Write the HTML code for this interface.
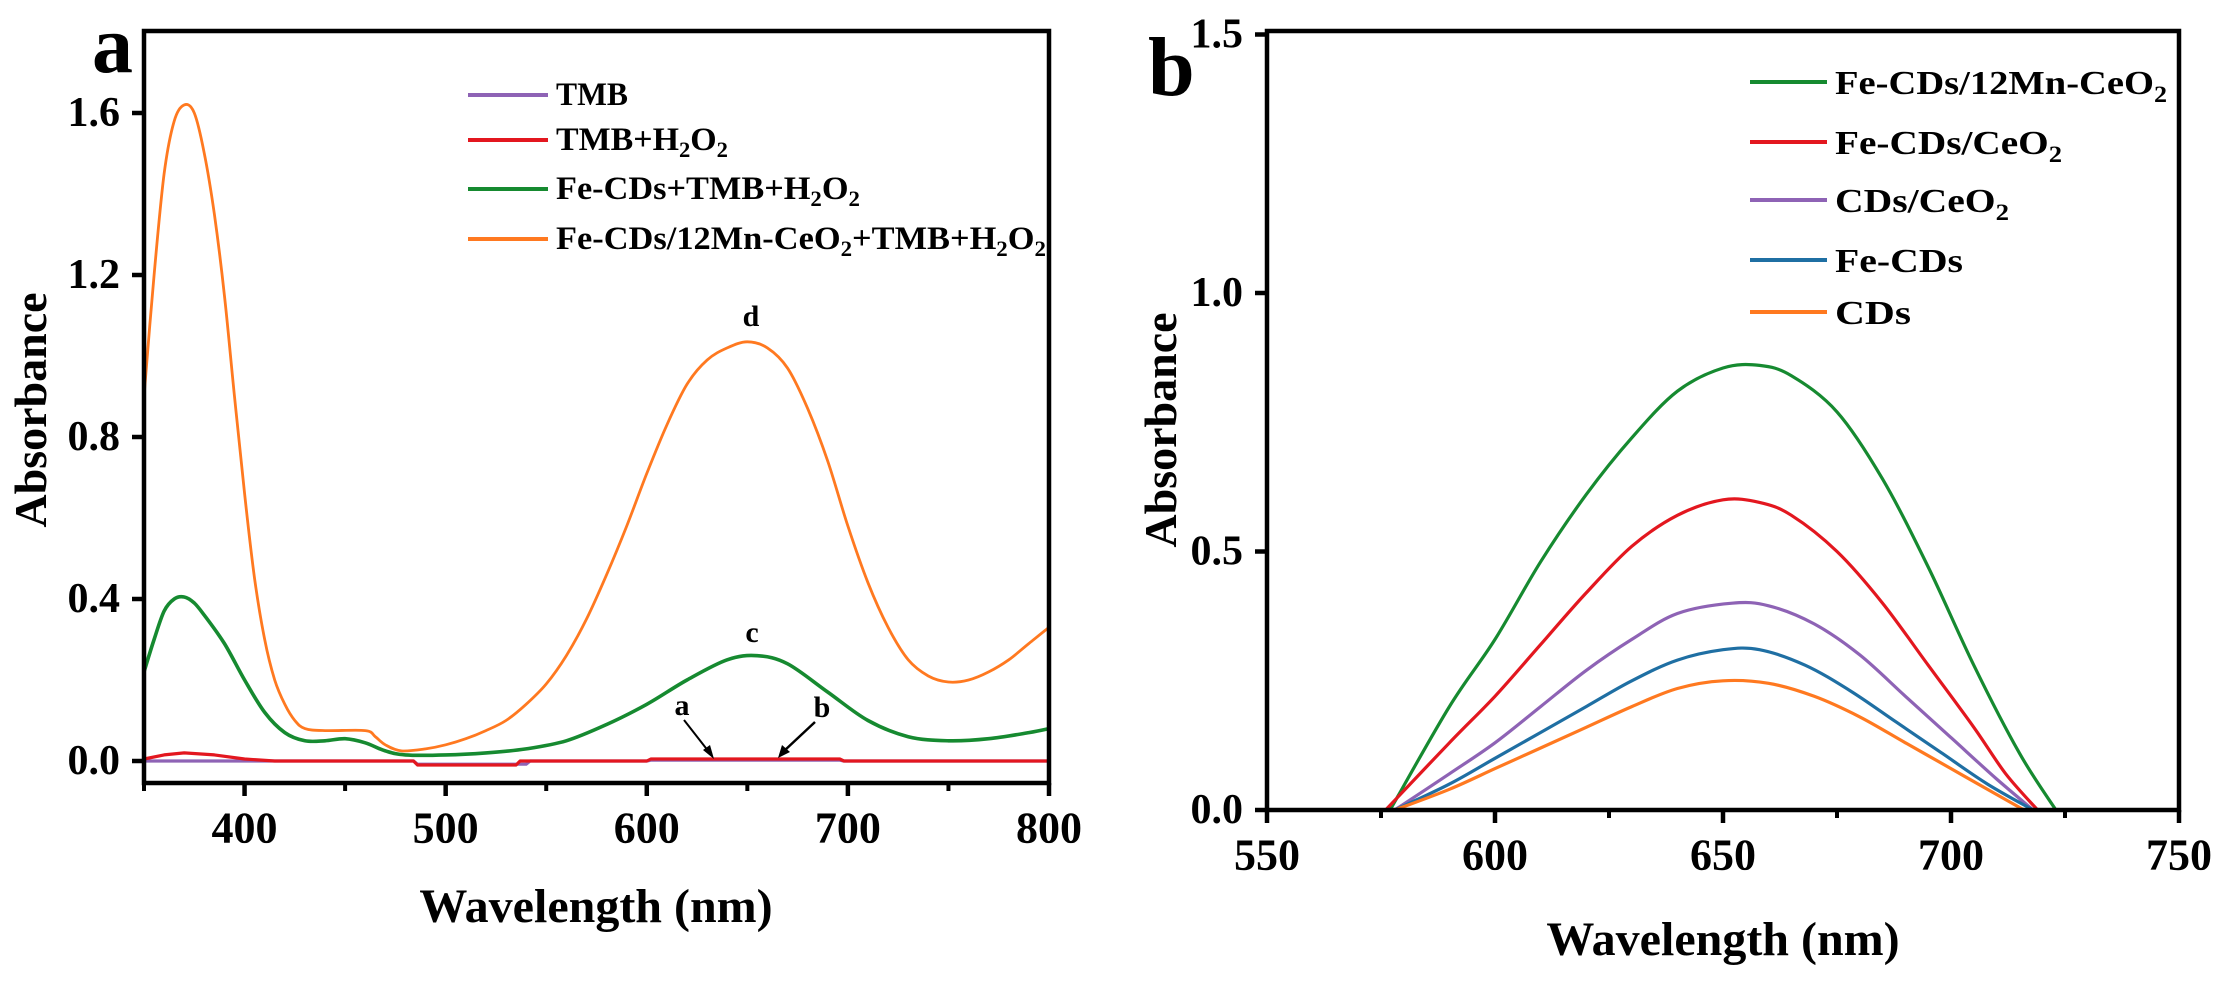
<!DOCTYPE html>
<html><head><meta charset="utf-8"><style>
html,body{margin:0;padding:0;background:#fff;}
svg{display:block;font-family:"Liberation Serif",serif;font-weight:bold;}
</style></head><body>
<svg id="fig" width="2237" height="985" viewBox="0 0 2237 985" xmlns="http://www.w3.org/2000/svg">
<g id="pa"></g>
<g id="pb"></g>
</svg>
<script>
// ---------- Panel a data ----------
const aOrangeX = [350,355,360,365,370,375,380,385,390,395,400,405,410,415,420,425,430,440,460,465,470,478,490,500,510,520,530,540,550,560,570,580,590,600,610,620,630,640,650,660,670,680,690,700,710,720,730,740,750,760,770,780,790,800];
const aOrangeY = [0.9,1.2,1.45,1.58,1.62,1.6,1.5,1.35,1.15,0.9,0.66,0.45,0.3,0.2,0.14,0.1,0.08,0.075,0.075,0.06,0.04,0.025,0.03,0.04,0.055,0.075,0.1,0.14,0.19,0.26,0.35,0.46,0.58,0.71,0.83,0.93,0.99,1.02,1.035,1.02,0.97,0.87,0.74,0.58,0.44,0.33,0.25,0.21,0.195,0.2,0.22,0.25,0.29,0.33];
const aGreenX = [350,355,360,365,370,375,380,390,400,410,420,430,440,450,460,470,480,500,520,540,560,580,600,620,640,655,670,690,710,730,750,770,790,800];
const aGreenY = [0.22,0.3,0.37,0.4,0.405,0.39,0.36,0.29,0.2,0.12,0.07,0.05,0.05,0.055,0.045,0.025,0.015,0.015,0.02,0.03,0.05,0.09,0.14,0.2,0.25,0.26,0.24,0.17,0.1,0.06,0.05,0.055,0.07,0.08];
const aRedX = [350,360,370,385,400,415,484,486,535,537,600,602,696,698,800];
const aRedY = [0.005,0.015,0.02,0.015,0.005,0,0,-0.01,-0.01,0,0,0.005,0.005,0,0];
const aPurpleX = [350,484,486,540,542,600,602,696,698,800];
const aPurpleY = [0,0,-0.008,-0.008,0,0,0.002,0.002,0,0];
const aXTicks = [400,500,600,700,800];
const aXMinor = [350,450,550,650,750];
const aYTicks = [0,0.4,0.8,1.2,1.6];
const aYLabels = ["0.0","0.4","0.8","1.2","1.6"];
// ---------- Panel b data ----------
const bGreenX = [577,590,600,610,620,630,640,650,658,665,675,685,695,705,715,723];
const bGreenY = [0,0.2,0.33,0.48,0.61,0.72,0.81,0.855,0.86,0.84,0.77,0.64,0.47,0.28,0.11,0];
const bRedX = [576,590,600,610,620,630,640,650,658,665,675,685,695,705,712,719];
const bRedY = [0,0.13,0.22,0.32,0.42,0.51,0.57,0.6,0.595,0.57,0.5,0.4,0.28,0.16,0.07,0];
const bPurpleX = [578,590,600,610,620,630,640,652,660,670,680,690,700,710,718];
const bPurpleY = [0,0.07,0.13,0.2,0.27,0.33,0.38,0.4,0.395,0.36,0.3,0.22,0.14,0.06,0];
const bBlueX = [578,590,600,610,620,630,640,650,658,668,678,688,698,708,718];
const bBlueY = [0,0.05,0.1,0.15,0.2,0.25,0.29,0.31,0.31,0.28,0.23,0.17,0.11,0.05,0];
const bOrangeX = [578,590,600,610,620,630,640,650,660,670,680,690,700,710,716];
const bOrangeY = [0,0.04,0.08,0.12,0.16,0.2,0.235,0.25,0.245,0.22,0.18,0.13,0.08,0.03,0];
const bXTicks = [550,600,650,700,750];
const bXMinor = [575,625,675,725];
const bYTicks = [0,0.5,1.0,1.5];
const bYLabels = ["0.0","0.5","1.0","1.5"];

const NS = "http://www.w3.org/2000/svg";
function mk(parent, tag, attrs){const e=document.createElementNS(NS,tag);for(const k in attrs)e.setAttribute(k,attrs[k]);parent.appendChild(e);return e;}

const axA = {x0:144,x1:1049,y0:761,top:31,bottom:783,xmin:350,xmax:800,ppu:405};
const axB = {x0:1267,x1:2179,y0:810,top:31,bottom:810,xmin:550,xmax:750,ppu:517};
function sx(ax,v){return ax.x0+(v-ax.xmin)/(ax.xmax-ax.xmin)*(ax.x1-ax.x0);}
function sy(ax,v){return ax.y0-v*ax.ppu;}

function series(g,ax,xs,ys,color,name,w,smooth){
  const P=xs.map((x,i)=>[sx(ax,x),sy(ax,ys[i])]);
  let d="M"+P[0][0].toFixed(1)+","+P[0][1].toFixed(1);
  for(let i=0;i<P.length-1;i++){
    if(!smooth){d+="L"+P[i+1][0].toFixed(1)+","+P[i+1][1].toFixed(1);continue;}
    const p0=P[Math.max(i-1,0)],p1=P[i],p2=P[i+1],p3=P[Math.min(i+2,P.length-1)];
    const c1=[p1[0]+(p2[0]-p0[0])/6,p1[1]+(p2[1]-p0[1])/6];
    const c2=[p2[0]-(p3[0]-p1[0])/6,p2[1]-(p3[1]-p1[1])/6];
    d+="C"+c1[0].toFixed(1)+","+c1[1].toFixed(1)+" "+c2[0].toFixed(1)+","+c2[1].toFixed(1)+" "+p2[0].toFixed(1)+","+p2[1].toFixed(1);
  }
  const p=mk(g,"path",{d:d,fill:"none",stroke:color,"stroke-width":w||3.2,"stroke-linejoin":"round"});
  
  
}

function frame(g,ax,xt,xm,yt,yl,labY,tickFs,name){
  const f=mk(g,"rect",{x:ax.x0,y:ax.top,width:ax.x1-ax.x0,height:ax.bottom-ax.top,fill:"none",stroke:"#000","stroke-width":4.5});
  
  
  xt.forEach(v=>{
    const x=sx(ax,v);
    mk(g,"line",{x1:x,x2:x,y1:ax.bottom,y2:ax.bottom+13,stroke:"#000","stroke-width":4.5});
    const t=mk(g,"text",{x:x,y:labY,"font-size":tickFs,"text-anchor":"middle","dominant-baseline":"central"});
    t.textContent=v;
    
    
  });
  xm.forEach(v=>{const x=sx(ax,v);mk(g,"line",{x1:x,x2:x,y1:ax.bottom,y2:ax.bottom+8,stroke:"#000","stroke-width":4});});
  yt.forEach((v,i)=>{
    const y=sy(ax,v);
    mk(g,"line",{x1:ax.x0-12,x2:ax.x0,y1:y,y2:y,stroke:"#000","stroke-width":4.5});
    const t=mk(g,"text",{x:ax.x0-24,y:y,"font-size":tickFs-2,"text-anchor":"end","dominant-baseline":"central"});
    t.textContent=yl[i];
    
    
  });
}

const pa=document.getElementById("pa"), pb=document.getElementById("pb");

series(pa,axA,aPurpleX,aPurpleY,"#8e63b5","series-tmb",3.2,false);
series(pa,axA,aRedX,aRedY,"#e3171f","series-tmb-h2o2",3.2,false);
series(pa,axA,aGreenX,aGreenY,"#168a30","series-fecds-tmb-h2o2",3.6,true);
series(pa,axA,aOrangeX,aOrangeY,"#ff7920","series-fecds-mnceo2-tmb-h2o2",2.8,true);
frame(pa,axA,aXTicks,aXMinor,aYTicks,aYLabels,828,44,"panel-a");

series(pb,axB,bGreenX,bGreenY,"#168a30","series-b-fecds-12mn-ceo2",3.2,true);
series(pb,axB,bRedX,bRedY,"#e3171f","series-b-fecds-ceo2",3.2,true);
series(pb,axB,bPurpleX,bPurpleY,"#8e63b5","series-b-cds-ceo2",3.2,true);
series(pb,axB,bBlueX,bBlueY,"#1f6fa3","series-b-fecds",3.2,true);
series(pb,axB,bOrangeX,bOrangeY,"#ff7920","series-b-cds",3.2,true);
frame(pb,axB,bXTicks,bXMinor,bYTicks,bYLabels,855,44,"panel-b");

const fig=document.getElementById("fig");
fig.insertAdjacentHTML("beforeend",`
<text x="92" y="72" font-size="82">a</text>
<text x="1148" y="95" font-size="84">b</text>
<text x="596" y="922" font-size="48" text-anchor="middle">Wavelength (nm)</text>
<text x="1723" y="955" font-size="48" text-anchor="middle">Wavelength (nm)</text>
<text transform="translate(46,410) rotate(-90)" font-size="46" text-anchor="middle">Absorbance</text>
<text transform="translate(1176,430) rotate(-90)" font-size="46" text-anchor="middle">Absorbance</text>
<text x="751" y="326" font-size="30" text-anchor="middle">d</text>
<text x="752" y="642" font-size="30" text-anchor="middle">c</text>
<text x="682" y="715" font-size="30" text-anchor="middle">a</text>
<text x="822" y="717" font-size="30" text-anchor="middle">b</text>
<g><line x1="684" y1="720" x2="709" y2="752" stroke="#000" stroke-width="2"/><polygon points="714,759 703,750 710,745" fill="#000"/></g>
<g><line x1="815" y1="722" x2="784" y2="751" stroke="#000" stroke-width="2.5"/><polygon points="778,758 782,745 790,752" fill="#000"/></g>
<g>
 <g><line x1="468" x2="548" y1="95" y2="95" stroke="#8e63b5" stroke-width="4"/><text x="556" y="105" font-size="33" textLength="72" lengthAdjust="spacingAndGlyphs">TMB</text></g>
 <g><line x1="468" x2="548" y1="140" y2="140" stroke="#e3171f" stroke-width="4"/><text x="556" y="150" font-size="33" textLength="172" lengthAdjust="spacingAndGlyphs">TMB+H<tspan font-size="22" dy="7">2</tspan><tspan dy="-7">O</tspan><tspan font-size="22" dy="7">2</tspan></text></g>
 <g><line x1="468" x2="548" y1="189" y2="189" stroke="#168a30" stroke-width="4"/><text x="556" y="199" font-size="33" textLength="304" lengthAdjust="spacingAndGlyphs">Fe-CDs+TMB+H<tspan font-size="22" dy="7">2</tspan><tspan dy="-7">O</tspan><tspan font-size="22" dy="7">2</tspan></text></g>
 <g><line x1="468" x2="548" y1="239" y2="239" stroke="#ff7920" stroke-width="4"/><text x="556" y="249" font-size="33" textLength="490" lengthAdjust="spacingAndGlyphs">Fe-CDs/12Mn-CeO<tspan font-size="22" dy="7">2</tspan><tspan dy="-7">+TMB+H</tspan><tspan font-size="22" dy="7">2</tspan><tspan dy="-7">O</tspan><tspan font-size="22" dy="7">2</tspan></text></g>
</g>
<g>
 <g><line x1="1750" x2="1827" y1="82" y2="82" stroke="#168a30" stroke-width="4"/><text x="1835" y="94" font-size="34" textLength="332" lengthAdjust="spacingAndGlyphs">Fe-CDs/12Mn-CeO<tspan font-size="23" dy="8">2</tspan></text></g>
 <g><line x1="1750" x2="1827" y1="142" y2="142" stroke="#e3171f" stroke-width="4"/><text x="1835" y="154" font-size="34" textLength="227" lengthAdjust="spacingAndGlyphs">Fe-CDs/CeO<tspan font-size="23" dy="8">2</tspan></text></g>
 <g><line x1="1750" x2="1827" y1="200" y2="200" stroke="#8e63b5" stroke-width="4"/><text x="1835" y="212" font-size="34" textLength="174" lengthAdjust="spacingAndGlyphs">CDs/CeO<tspan font-size="23" dy="8">2</tspan></text></g>
 <g><line x1="1750" x2="1827" y1="260" y2="260" stroke="#1f6fa3" stroke-width="4"/><text x="1835" y="272" font-size="34" textLength="128" lengthAdjust="spacingAndGlyphs">Fe-CDs</text></g>
 <g><line x1="1750" x2="1827" y1="312" y2="312" stroke="#ff7920" stroke-width="4"/><text x="1835" y="324" font-size="34" textLength="76" lengthAdjust="spacingAndGlyphs">CDs</text></g>
</g>`);
</script>
</body></html>
